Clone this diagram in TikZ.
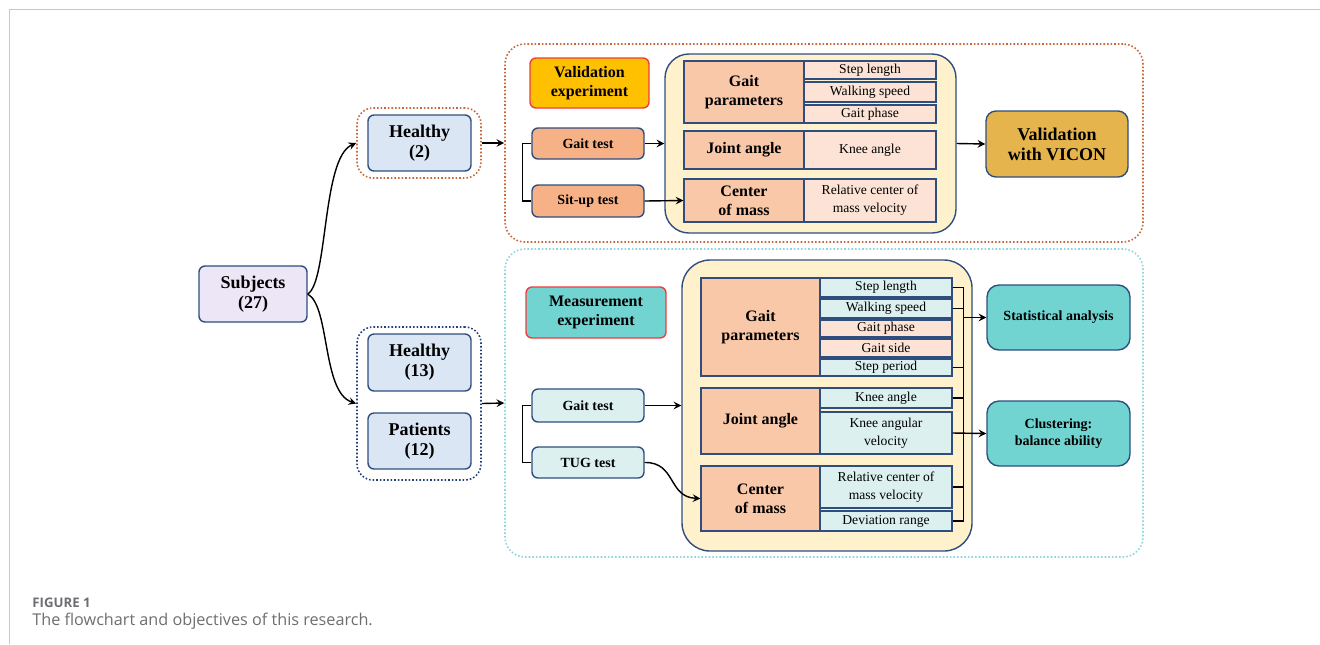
\documentclass[tikz,border=0pt]{standalone}
\usepackage{fontspec}
\setmainfont{Liberation Serif}
\newfontfamily\capfont{Open Sans}

\definecolor{rimblue}{HTML}{2F4E7E}
\definecolor{framegray}{HTML}{C8C8C8}
\definecolor{capgray}{HTML}{6D6E71}
\definecolor{rustdot}{HTML}{C8693A}
\definecolor{cyandot}{HTML}{8ED6DE}
\definecolor{navydot}{HTML}{24407A}
\definecolor{expred}{HTML}{F03C3C}
\definecolor{subjfill}{HTML}{ECE6F6}
\definecolor{healthyfill}{HTML}{DAE6F4}
\definecolor{valfill}{HTML}{FFC000}
\definecolor{testfill}{HTML}{F6B187}
\definecolor{panelfill}{HTML}{FFF1CC}
\definecolor{catfill}{HTML}{F9C8A8}
\definecolor{pinkfill}{HTML}{FCE3D6}
\definecolor{viconfill}{HTML}{E6B44C}
\definecolor{tealfill}{HTML}{71D4D1}
\definecolor{cyanfill}{HTML}{DCF0F0}

\newcommand{\bigfnt}{\fontsize{9}{10}\selectfont\bfseries}
\newcommand{\midfnt}{\fontsize{8}{9.7}\selectfont\bfseries}
\newcommand{\smlfnt}{\fontsize{7}{8.5}\selectfont\bfseries}
\newcommand{\cellfnt}{\fontsize{6.8}{9}\selectfont}

\begin{document}
\begin{tikzpicture}[x=0.5pt, y=-0.5pt, >=stealth,
    box/.style={draw=rimblue, line width=0.7pt, rounded corners=3pt, align=center, inner sep=0pt},
    cell/.style={draw=rimblue, line width=0.6pt, align=center, inner sep=0pt},
    grp/.style={densely dotted, line width=0.8pt, rounded corners=10pt},
    wh/.style 2 args={minimum width=#1pt, minimum height=#2pt},
    conn/.style={line width=0.7pt}]

    % рамка
    \useasboundingbox ( 0, 0 ) rectangle ( 1320, 644 );
    \draw [framegray, line width=0.8pt] ( 9.5, 644 ) -- ( 9.5, 9.5 ) -- ( 1320, 9.5 );

    % группы
    \node [grp, draw=rustdot, wh={319}{99}] (topbox) at ( 824, 143 ) {};
    \node [grp, draw=cyandot, wh={319}{154}] (botbox) at ( 824, 403 ) {};
    \node [grp, draw=rustdot, rounded corners=8pt, wh={62}{35}] (grpA) at ( 419, 143 ) {};
    \node [grp, draw=navydot, rounded corners=8pt, wh={62}{76.5}] (grpB) at ( 419, 403.5 ) {};

    % испытуемые
    \node [box, fill=subjfill, wh={54}{28}, font=\bigfnt] (subj) at ( 253, 294 ) {Subjects\\(27)};
    \node [box, fill=healthyfill, wh={51.5}{28}, font=\bigfnt] (healthyA) at ( 419.5, 143 ) {Healthy\\(2)};
    \node [box, fill=healthyfill, wh={51.5}{28.5}, font=\bigfnt] (healthyB) at ( 419.5, 362.5 ) {Healthy\\(13)};
    \node [box, fill=healthyfill, wh={51.5}{28}, font=\bigfnt] (patients) at ( 419.5, 441 ) {Patients\\(12)};

    % валидация
    \node [box, draw=expred, fill=valfill, wh={59.5}{25}, font=\midfnt] (valexp) at ( 589.5, 83 ) {Validation\\experiment};
    \node [box, fill=testfill, wh={56}{15.5}, font=\smlfnt] (gaitA) at ( 588, 143.5 ) {Gait test};
    \node [box, fill=testfill, wh={56}{16}, font=\smlfnt] (situp) at ( 588, 201 ) {Sit-up test};
    \node [box, fill=panelfill, rounded corners=12pt, wh={145.5}{89.5}] (panelA) at ( 810.5, 143.5 ) {};
    \node [cell, fill=catfill, wh={60}{31}, font=\midfnt] (catGaitA) at ( 744, 92 ) {Gait\\parameters};
    \node [cell, fill=pinkfill, wh={66}{9}, font=\cellfnt] (itStepA) at ( 870, 70 ) {Step length};
    \node [cell, fill=pinkfill, wh={66}{10}, font=\cellfnt] (itSpeedA) at ( 870, 92 ) {Walking speed};
    \node [cell, fill=pinkfill, wh={66}{9}, font=\cellfnt] (itPhaseA) at ( 870, 114 ) {Gait phase};
    \node [cell, fill=catfill, wh={60}{19}, font=\midfnt] (catJointA) at ( 744, 150 ) {Joint angle};
    \node [cell, fill=pinkfill, wh={66}{19}, font=\cellfnt] (itKneeA) at ( 870, 150 ) {Knee angle};
    \node [cell, fill=catfill, wh={60}{21.5}, font=\midfnt] (catComA) at ( 744, 200.5 ) {Center\\of mass};
    \node [cell, fill=pinkfill, wh={66}{21.5}, font=\cellfnt] (itRelA) at ( 870, 200.5 ) {Relative center of\\mass velocity};
    \node [box, fill=viconfill, rounded corners=5pt, wh={71}{33}, font=\bigfnt] (vicon) at ( 1057, 144 ) {Validation\\with VICON};

    % измерения
    \node [box, draw=expred, fill=tealfill, wh={70}{25.5}, font=\midfnt] (measexp) at ( 596, 312.5 ) {Measurement\\experiment};
    \node [box, fill=cyanfill, wh={56}{16.5}, font=\smlfnt] (gaitB) at ( 588, 405.5 ) {Gait test};
    \node [box, fill=cyanfill, wh={56}{15.5}, font=\smlfnt] (tug) at ( 588, 462.5 ) {TUG test};
    \node [box, fill=panelfill, rounded corners=14pt, wh={145}{145.5}] (panelB) at ( 827, 405.5 ) {};
    \node [cell, fill=catfill, wh={59.5}{49}, font=\midfnt] (catGaitB) at ( 760.5, 327 ) {Gait\\parameters};
    \node [cell, fill=cyanfill, wh={66}{9.5}, font=\cellfnt] (itStepB) at ( 886, 287.5 ) {Step length};
    \node [cell, fill=cyanfill, wh={66}{9.5}, font=\cellfnt] (itSpeedB) at ( 886, 308.5 ) {Walking speed};
    \node [cell, fill=pinkfill, wh={66}{8.5}, font=\cellfnt] (itPhaseB) at ( 886, 328.5 ) {Gait phase};
    \node [cell, fill=pinkfill, wh={66}{9}, font=\cellfnt] (itSideB) at ( 886, 348 ) {Gait side};
    \node [cell, fill=cyanfill, wh={66}{8.5}, font=\cellfnt] (itPeriodB) at ( 886, 367.5 ) {Step period};
    \node [cell, fill=catfill, wh={59.5}{33}, font=\midfnt] (catJointB) at ( 760.5, 421 ) {Joint angle};
    \node [cell, fill=cyanfill, wh={66}{10}, font=\cellfnt] (itKneeB) at ( 886, 398 ) {Knee angle};
    \node [cell, fill=cyanfill, wh={66}{21}, font=\cellfnt] (itKneeVelB) at ( 886, 433 ) {Knee angular\\velocity};
    \node [cell, fill=catfill, wh={59.5}{32.5}, font=\midfnt] (catComB) at ( 760.5, 498.5 ) {Center\\of mass};
    \node [cell, fill=cyanfill, wh={66}{21}, font=\cellfnt] (itRelB) at ( 886, 487 ) {Relative center of\\mass velocity};
    \node [cell, fill=cyanfill, wh={66}{10}, font=\cellfnt] (itDevB) at ( 886, 521 ) {Deviation range};
    \node [box, fill=tealfill, rounded corners=6pt, wh={71.5}{32.5}, font=\smlfnt] (stat) at ( 1058.5, 317.5 ) {Statistical analysis};
    \node [box, fill=tealfill, rounded corners=6pt, wh={71.5}{32.5}, font=\smlfnt] (clust) at ( 1058.5, 433.5 ) {Clustering:\\balance ability};

    % стрелки
    \draw [conn, ->] (subj.east) .. controls ( 328, 282 ) and ( 322, 158 ) .. (grpA.west);
    \draw [conn, ->] (subj.east) .. controls ( 330, 306 ) and ( 322, 392 ) .. (grpB.west);
    \draw [conn, ->] (grpA) -- (topbox);
    \draw [conn, ->] (grpB.east) -- (botbox.west);
    \draw [conn] (gaitA.west) -- ++( -9, 0 ) |- (situp.west);
    \draw [conn] (gaitB.west) -- ++( -9, 0 ) |- (tug.west);
    \draw [conn, ->] (gaitA.east) -- (panelA.west);
    \draw [conn, ->] (situp.east) -- (catComA.west);
    \draw [conn, ->] (panelA.east) -- (vicon.west);
    \draw [conn, ->] (gaitB.east) -- (panelB.west);
    \draw [conn, ->] (tug.east) .. controls ( 676, 462 ) and ( 668, 497 ) .. (catComB.west);

    % скобка справа
    \draw [conn] (itStepB.east) -- ++( 11, 0 ) |- (itDevB.east);
    \foreach \n in {itSpeedB, itPeriodB, itKneeB, itRelB}
        \draw [conn] (\n.east) -- ++( 11, 0 );
    \coordinate (brk) at ( 963, 317.5 );
    \draw [conn, ->] (brk) -- (stat.west);
    \draw [conn, ->] (itKneeVelB.east) -- (clust.west);

    % подпись
    \node [anchor=west, inner sep=0pt, text=capgray, font=\capfont\fontsize{6.6}{8}\selectfont\bfseries] (figlbl) at ( 32, 603 ) {FIGURE 1};
    \node [anchor=west, inner sep=0pt, text=capgray, font=\capfont\fontsize{8.1}{9.5}\selectfont] (figcap) at ( 32, 621 ) {The flowchart and objectives of this research.};
\end{tikzpicture}
\end{document}
